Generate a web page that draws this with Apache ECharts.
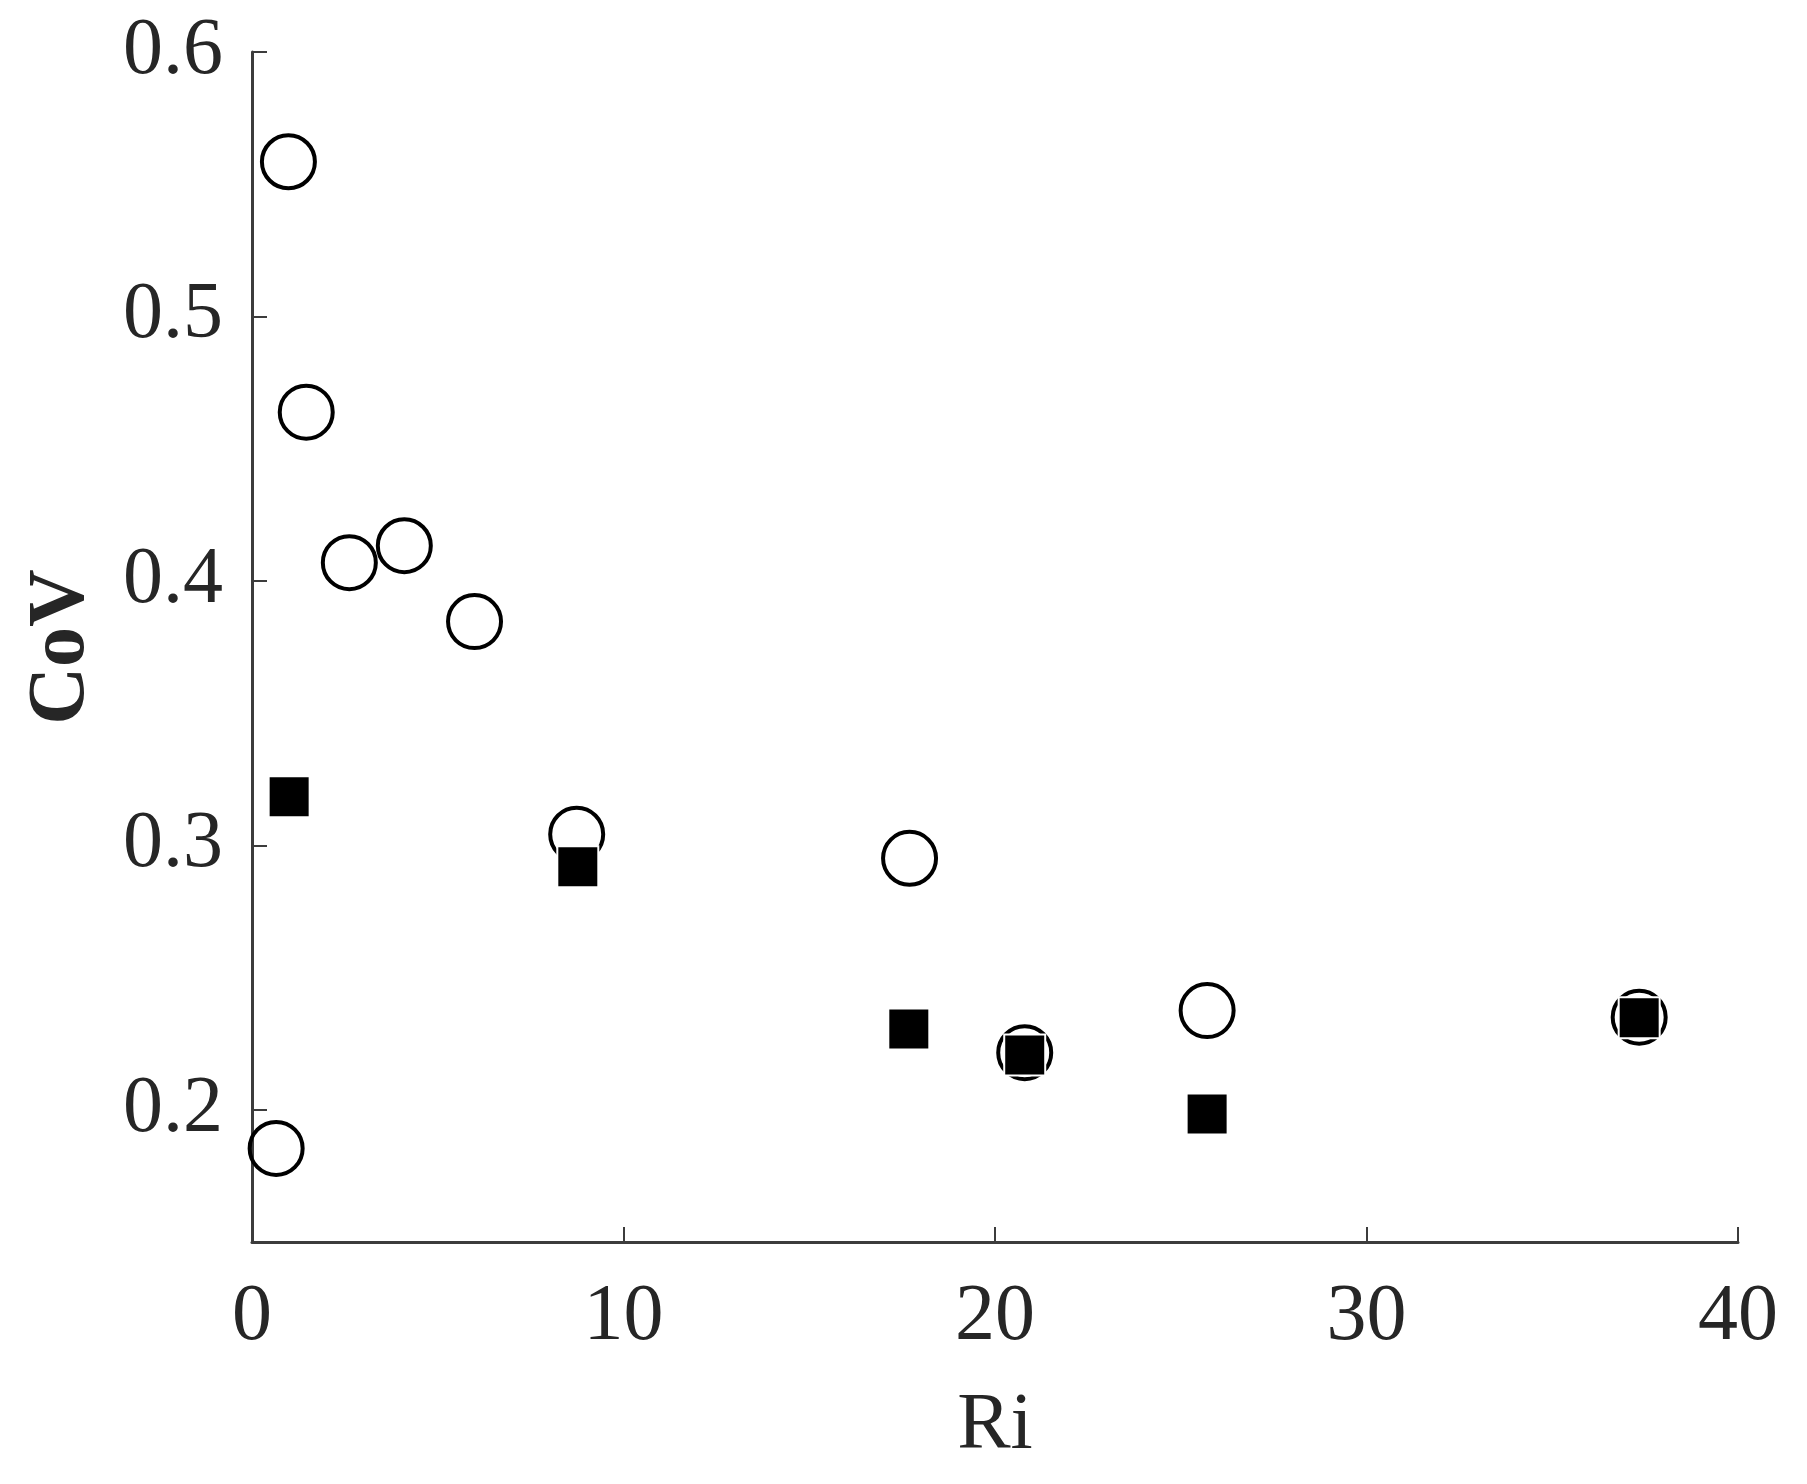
<!DOCTYPE html>
<html>
<head>
<meta charset="utf-8">
<title>CoV vs Ri</title>
<script src="https://cdn.jsdelivr.net/npm/echarts@6/dist/echarts.min.js"></script>
<style>
  html, body { margin: 0; padding: 0; background: #fff; }
  #chart { width: 1807px; height: 1484px; }
</style>
</head>
<body>
<div id="chart"></div>
<script>
// open circles
const riOpen = [0.98, 1.46, 2.62, 4.10, 5.99, 8.74, 17.70, 20.80, 25.71, 37.34, 0.65]
const covOpen = [0.5585, 0.4638, 0.4069, 0.4133, 0.3846, 0.3042, 0.2951, 0.2216, 0.2375, 0.2350, 0.1854]
// filled squares
const riFilled = [1.00, 8.77, 17.68, 20.80, 25.71, 37.34]
const covFilled = [0.3184, 0.2919, 0.2305, 0.2207, 0.1984, 0.2348]
// tick labels
const yTicks = [0.2, 0.3, 0.4, 0.5, 0.6]

const pairs = (xs, ys) => xs.map((x, i) => [x, ys[i]])

const axisColor = '#3c3c3c'
const textColor = '#262626'
const serif = "'Liberation Serif', Tinos, 'Times New Roman', Times, serif"

const chart = echarts.init(document.getElementById('chart'))

const option = {
  animation: false,
  grid: { left: 252, right: 69, top: 52, bottom: 242 },
  xAxis: {
    type: 'value',
    min: 0,
    max: 40,
    interval: 10,
    name: 'Ri',
    nameLocation: 'middle',
    nameGap: 145,
    nameTextStyle: { fontFamily: serif, fontSize: 80, color: textColor },
    axisLine: { show: true, lineStyle: { color: axisColor, width: 3 } },
    axisTick: { show: true, inside: true, length: 15, lineStyle: { color: axisColor, width: 2 } },
    axisLabel: { margin: 36, fontFamily: serif, fontSize: 80, color: textColor },
    splitLine: { show: false }
  },
  yAxis: {
    type: 'value',
    min: 0.15,
    max: 0.6,
    name: 'CoV',
    nameLocation: 'middle',
    nameGap: 150,
    nameTextStyle: { fontFamily: serif, fontSize: 80, fontWeight: 'bold', color: textColor },
    axisLine: { show: true, lineStyle: { color: axisColor, width: 3 } },
    axisTick: { show: true, inside: true, length: 15, customValues: yTicks, lineStyle: { color: axisColor, width: 2 } },
    axisLabel: {
      margin: 29,
      customValues: yTicks,
      fontFamily: serif,
      fontSize: 80,
      color: textColor,
      formatter: v => v.toFixed(1)
    },
    splitLine: { show: false }
  },
  series: [
    {
      type: 'scatter',
      data: pairs(riOpen, covOpen),
      symbol: 'circle',
      symbolSize: 53,
      itemStyle: { color: 'rgba(0,0,0,0)', borderColor: '#000', borderWidth: 4, opacity: 1 },
      z: 2
    },
    {
      type: 'scatter',
      data: pairs(riFilled, covFilled),
      symbol: 'rect',
      symbolSize: 41,
      itemStyle: { color: '#000', borderColor: '#fff', borderWidth: 2, opacity: 1 },
      z: 3
    }
  ]
}

chart.setOption(option)
</script>
</body>
</html>
